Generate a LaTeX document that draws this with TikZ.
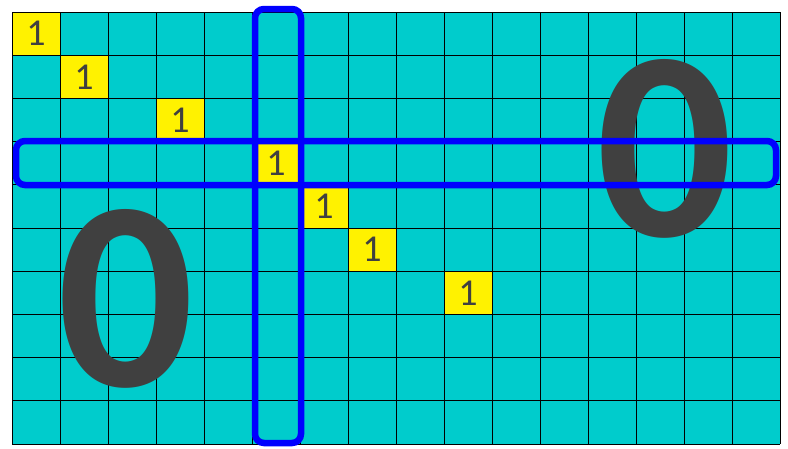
\documentclass[tikz,border=0pt]{standalone}
\usepackage{fontspec}
\setmainfont{Carlito}
\definecolor{sea}{RGB}{0,204,204}
\definecolor{ink}{RGB}{64,64,64}
\tikzset{one/.style={fill=yellow,minimum width=48pt,minimum height=43.2pt,inner sep=0pt,text=ink,font=\fontsize{38}{38}\selectfont},
zero/.style={inner sep=0pt,text=ink,font=\fontsize{270}{270}\selectfont\bfseries},
band/.style={draw=blue,line width=6.5pt,rounded corners=9pt}}
\begin{document}
\begin{tikzpicture}[x=1pt,y=-1pt]
\useasboundingbox (0,0) rectangle (788,448);
\fill[sea] (12,12) rectangle (780,444);
\foreach \c/\r [count=\i] in {0/0,1/1,3/2,5/3,6/4,7/5,9/6}{\node[one] (o\i) at (36+48*\c,33.6+43.2*\r){1};}
\foreach \x in {0,...,16}{\draw[line width=.8pt] (12+48*\x,12)--(12+48*\x,444);}
\foreach \y in {0,...,10}{\draw[line width=.8pt] (12,12+43.2*\y)--(780,12+43.2*\y);}
\node[zero] (z1) at (126,299){0};\node[zero] (z2) at (664.5,149){0};
\draw[band] (16,141) rectangle (776,185);\draw[band] (255,9) rectangle (301,443);
\end{tikzpicture}
\end{document}
